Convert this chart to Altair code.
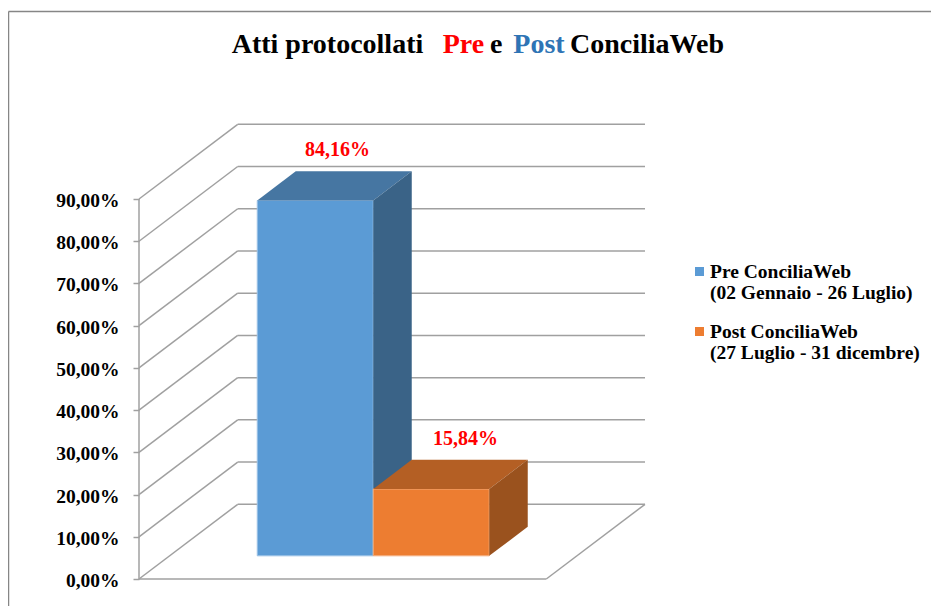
import altair as alt
import pandas as pd

# ---------------- data ----------------
categories = ["Pre ConciliaWeb", "Post ConciliaWeb"]
periods = ["\u00a0(02 Gennaio - 26 Luglio)", "(27 Luglio - 31 dicembre)"]
values = [84.16, 15.84]
tick_values = [0, 10, 20, 30, 40, 50, 60, 70, 80, 90]
title_parts = ["Atti protocollati", "Pre", "e", "Post", "ConciliaWeb"]

# ---------------- style ----------------
front_colors = ["#5B9BD5", "#ED7D31"]
edge_colors = ["#9DC3E6", "#F4B183"]
top_colors = ["#4676A2", "#B45F24"]
side_colors = ["#3A6387", "#9A521E"]
title_colors = ["#000000", "#FF0000", "#000000", "#2E74B5", "#000000"]
title_x = [92.7, 303.7, 351, 374.3, 431]
GRID = "#A0A0A0"
FONT = "Liberation Serif, Times New Roman, serif"

W, H = 506, 455
PX_PER_PCT = 4.2222
Y_MAX = H / PX_PER_PCT
FW = 407.3          # floor front width (x units)
DX = W - FW         # depth shift in x
DY = 74.7 / PX_PER_PCT  # depth shift in y (% units)
BW = 116.0          # bar width
D0, D1 = 0.31, 0.70  # bar depth range (fraction of floor depth)

xs = alt.Scale(domain=[0, W], nice=False, zero=False)
ys = alt.Scale(domain=[0, Y_MAX], nice=False, zero=False)


def Y(field):
    return alt.Y(field, scale=ys, title=None)


# ---------------- walls / floor / gridlines ----------------
segs = []
for v in tick_values:
    segs.append(dict(x1=0, y1=v, x2=DX, y2=v + DY))
    segs.append(dict(x1=DX, y1=v + DY, x2=W, y2=v + DY))
segs.append(dict(x1=0, y1=0, x2=0, y2=tick_values[-1]))
segs.append(dict(x1=0, y1=0, x2=FW, y2=0))
segs.append(dict(x1=FW, y1=0, x2=FW + DX, y2=DY))
seg_df = pd.DataFrame(segs)

grid = alt.Chart(seg_df).mark_rule(color=GRID, strokeWidth=1.5).encode(
    x=alt.X("x1:Q", scale=xs, axis=None),
    x2="x2:Q",
    y=alt.Y(
        "y1:Q",
        scale=ys,
        title=None,
        axis=alt.Axis(
            values=tick_values,
            labelExpr="replace(format(datum.value, '.2f'), '.', ',') + '%'",
            labelFont=FONT,
            labelFontWeight="bold",
            labelFontSize=19.5,
            labelColor="#000000",
            labelPadding=14,
            labelOffset=1.5,
            tickColor=GRID,
            tickSize=6,
            tickWidth=1.5,
            domain=False,
            grid=False,
            title=None,
        ),
    ),
    y2="y2:Q",
)

layers = [grid]

# ---------------- 3D bars ----------------
n = len(categories)
label_shift = [3, 15]
for i, (cat, val) in enumerate(zip(categories, values)):
    xl = FW / 2 - n * BW / 2 + i * BW
    xr = xl + BW
    front_df = pd.DataFrame([dict(cat=cat, x=xl + D0 * DX, x2=xr + D0 * DX,
                                  y=D0 * DY, y2=val + D0 * DY)])
    top_df = pd.DataFrame([
        dict(cat=cat, y=val + D0 * DY, x=xl + D0 * DX, x2=xr + D0 * DX),
        dict(cat=cat, y=val + D1 * DY, x=xl + D1 * DX, x2=xr + D1 * DX),
    ])
    side_df = pd.DataFrame([
        dict(cat=cat, x=xr + D0 * DX, y=D0 * DY, y2=val + D0 * DY),
        dict(cat=cat, x=xr + D1 * DX, y=D1 * DY, y2=val + D1 * DY),
    ])
    front = alt.Chart(front_df).mark_rect(
        color=front_colors[i], stroke=edge_colors[i], strokeWidth=1, opacity=1
    ).encode(
        x=alt.X("x:Q", scale=xs, axis=None), x2="x2:Q",
        y=Y("y:Q"), y2="y2:Q",
    )
    top = alt.Chart(top_df).mark_area(
        color=top_colors[i], orient="horizontal", opacity=1
    ).encode(
        y=Y("y:Q"),
        x=alt.X("x:Q", scale=xs, axis=None), x2="x2:Q",
        detail="cat:N",
    )
    side = alt.Chart(side_df).mark_area(
        color=side_colors[i], orient="vertical", opacity=1
    ).encode(
        x=alt.X("x:Q", scale=xs, axis=None),
        y=Y("y:Q"), y2="y2:Q",
        detail="cat:N",
    )
    label_df = pd.DataFrame([dict(
        cat=cat,
        x=xl + BW / 2 + (D0 + D1) / 2 * DX,
        y=val + D1 * DY,
        txt=f"{val:.2f}".replace(".", ",") + "%",
    )])
    label = alt.Chart(label_df).mark_text(
        font=FONT, fontWeight="bold", fontSize=20, color="#FF0000",
        baseline="alphabetic", align="center", dy=-15, dx=label_shift[i],
    ).encode(
        x=alt.X("x:Q", scale=xs, axis=None),
        y=Y("y:Q"),
        text="txt:N",
    )
    layers += [front, top, side, label]

# ---------------- legend ----------------
for i, (cat, per) in enumerate(zip(categories, periods)):
    one = pd.DataFrame([dict(cat=cat, txt=cat + "\n" + per)])
    sym = alt.Chart(one).mark_square(size=81, color=front_colors[i], opacity=1).encode(
        x=alt.value(560.5), y=alt.value(147.5 + i * 60)
    )
    txt = alt.Chart(one).mark_text(
        font=FONT, fontWeight="bold", fontSize=19.5, color="#000000",
        align="left", baseline="alphabetic", lineBreak="\n", lineHeight=21.5,
    ).encode(
        x=alt.value(571), y=alt.value(153.8 + i * 60), text="txt:N"
    )
    layers += [sym, txt]

# ---------------- title ----------------
for part, col, tx in zip(title_parts, title_colors, title_x):
    t = alt.Chart(pd.DataFrame([dict(t=part)])).mark_text(
        font=FONT, fontWeight="bold", fontSize=28, color=col,
        align="left", baseline="alphabetic",
    ).encode(x=alt.value(tx), y=alt.value(-70.7), text="t:N")
    layers.append(t)

# ---------------- outer border (top and left edges) ----------------
one_row = pd.DataFrame([dict(a=1)])
border_top = alt.Chart(one_row).mark_rule(color="#868686", strokeWidth=1.5).encode(
    x=alt.value(-130.5), x2=alt.value(W + 290), y=alt.value(-112.5)
)
border_left = alt.Chart(one_row).mark_rule(color="#868686", strokeWidth=1.5).encode(
    x=alt.value(-130.5), y=alt.value(-112.5), y2=alt.value(H + 40)
)
layers += [border_top, border_left]

chart = alt.layer(*layers).properties(
    width=W,
    height=H,
    padding={"left": 131, "top": 116, "right": 286, "bottom": 27},
    autosize=alt.AutoSizeParams(type="none"),
    background="#FFFFFF",
).configure_view(stroke=None)

chart.save("out.html", embed_options={"renderer": "svg", "actions": False})
